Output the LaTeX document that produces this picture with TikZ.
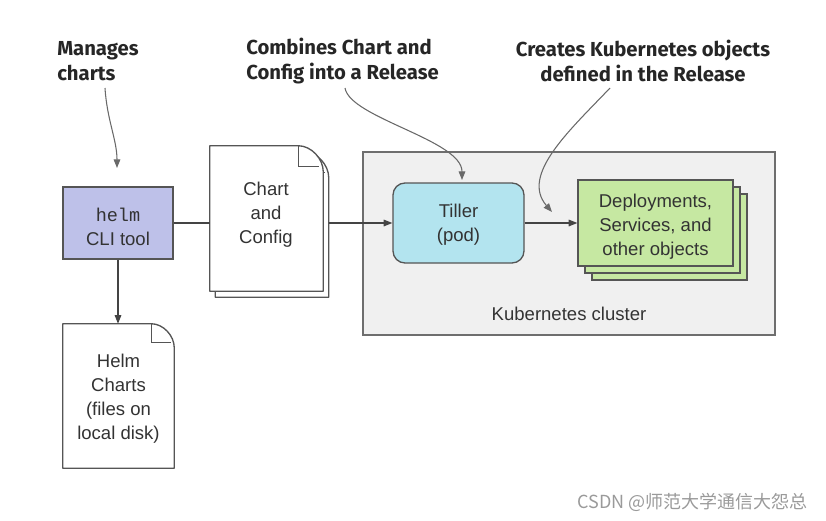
\documentclass[tikz,border=0pt]{standalone}
\usepackage{fontspec}
\setmainfont{Liberation Sans}
\newfontfamily\labelfont{Fira Sans}
\newfontfamily\helmmono{Liberation Mono}
\newfontfamily\cjkfont{Noto Sans CJK SC}
\usetikzlibrary{arrows.meta,calc}
\definecolor{boxline}{HTML}{555555}
\definecolor{lnc}{HTML}{444444}
\definecolor{txtc}{HTML}{333333}
\definecolor{helmfill}{HTML}{BEC1E9}
\definecolor{tillerfill}{HTML}{B3E4EF}
\definecolor{greenfill}{HTML}{C6E8A2}
\definecolor{clusterfill}{HTML}{F0F0F0}
\definecolor{clusterline}{HTML}{6E6E6E}
\definecolor{wm}{HTML}{9A9A9A}
\tikzset{
  bodytext/.style={font=\fontsize{13.9}{18}\selectfont, text=txtc, align=center},
  boxshape/.style={draw=boxline, line width=1pt, inner sep=0pt, bodytext},
  docarea/.style={inner sep=0pt, draw=none},
  docline/.style={draw=boxline, line width=1pt, fill=white, line join=round},
  conn/.style={draw=lnc, line width=0.8pt},
  arr/.style={draw=lnc, line width=0.8pt, -{Triangle[length=6.5pt,width=5pt]}},
  callout/.style={draw=lnc!80, line width=0.8pt, -{Triangle[length=6.5pt,width=5pt]}},
  labeltext/.style={font=\labelfont\bfseries\fontsize{15.2}{18.75}\selectfont, text=black!85, inner sep=0pt}
}
\begin{document}
\begin{tikzpicture}[x=0.75pt,y=-0.75pt]
\useasboundingbox (0,0) rectangle (826,521);

% Kubernetes cluster
\node[draw=clusterline, fill=clusterfill, line width=1pt, minimum width=309pt, minimum height=137.25pt, inner sep=0pt] (cluster) at (569,243.5) {};
\node[bodytext] (clusterlbl) at (569,314) {Kubernetes cluster};

% helm CLI box
\node[boxshape, fill=helmfill, minimum width=82.5pt, minimum height=54pt] (helm) at (118,223) {};
\node[bodytext] (helmtxt) at (118,226.5) {{\helmmono helm}\\CLI tool};

% Chart and Config document (two pages)
\node[docarea, minimum width=84.75pt, minimum height=108.75pt] (chartback) at (272,224.5) {};
\node[docarea, minimum width=84.75pt, minimum height=108.75pt] (chart) at (266.5,218.5) {};
\foreach \d/\f/\g in {chartback/25/26, chart/25/26}{
  \path[docline] (\d.north west) -- ($(\d.north east)+(-\f,0)$)
     .. controls ($(\d.north east)+(-\f+13,0)$) and ($(\d.north east)+(0,\g-13)$) .. ($(\d.north east)+(0,\g)$)
     -- (\d.south east) -- (\d.south west) -- cycle;
  \draw[boxline, line width=1pt] ($(\d.north east)+(-\f,0)$) -- ($(\d.north east)+(-\f,\g-5)$) -- ($(\d.north east)+(-4,\g-5)$);
}
\node[bodytext] (charttxt) at (266,214.5) {Chart\\and\\Config};

% Helm charts document
\node[docarea, minimum width=83.25pt, minimum height=108pt] (hdoc) at (118.5,396) {};
\path[docline] (hdoc.north west) -- ($(hdoc.north east)+(-23,0)$)
   .. controls ($(hdoc.north east)+(-11,0)$) and ($(hdoc.north east)+(0,12)$) .. ($(hdoc.north east)+(0,24)$)
   -- (hdoc.south east) -- (hdoc.south west) -- cycle;
\draw[boxline, line width=1pt] ($(hdoc.north east)+(-23,0)$) -- ($(hdoc.north east)+(-23,19)$) -- ($(hdoc.north east)+(-3,19)$);
\node[bodytext] (hdoctxt) at (118.5,398.5) {Helm\\Charts\\(files on\\local disk)};

% Tiller
\node[boxshape, fill=tillerfill, rounded corners=9pt, minimum width=98.25pt, minimum height=60pt] (tiller) at (458.5,223) {};
\node[bodytext] (tillertxt) at (458.5,224.5) {Tiller\\(pod)};

% Deployments stack
\node[boxshape, fill=greenfill, minimum width=116.25pt, minimum height=64.5pt] (dep3) at (669.5,237) {};
\node[boxshape, fill=greenfill, minimum width=116.25pt, minimum height=64.5pt] (dep2) at (662.5,230) {};
\node[boxshape, fill=greenfill, minimum width=116.25pt, minimum height=64.5pt] (dep) at (655.5,223) {};
\node[bodytext] (deptxt) at (655.5,226.5) {Deployments,\\Services, and\\other objects};

% connectors
\draw[conn] (helm.east) -- (helm.east -| chart.west);
\draw[arr] (chartback.east |- helm.east) -- (tiller.west);
\draw[arr] (tiller.east) -- (dep.west);
\draw[arr] (helm.south) -- (hdoc.north -| helm.south);

% labels
\node[labeltext, anchor=west, align=left] (lmanage) at (57,61) {Manages\\charts};
\node[labeltext, anchor=west, align=left] (lcombine) at (246,61) {Combines Chart and\\Config into a Release};
\node[labeltext, align=center] (lcreate) at (643,61) {Creates Kubernetes objects\\defined in the Release};

\coordinate (m0) at (105,88);
\coordinate (m1) at (117,168);
\draw[callout] (m0) .. controls (107,120) and (117,140) .. (m1);
\coordinate (c0) at (345,88);
\coordinate (c1) at (462,180);
\draw[callout] (c0) .. controls (350,118) and (462,140) .. (c1);
\coordinate (k0) at (610,88);
\coordinate (k1) at (552,212);
\draw[callout] (k0) .. controls (570,130) and (520,175) .. (k1);

% watermark
\node[anchor=east, text=wm, font=\cjkfont\fontsize{13.5}{16}\selectfont, inner sep=0pt] (wmark) at (808,502) {CSDN @师范大学通信大怨总};
\end{tikzpicture}
\end{document}
